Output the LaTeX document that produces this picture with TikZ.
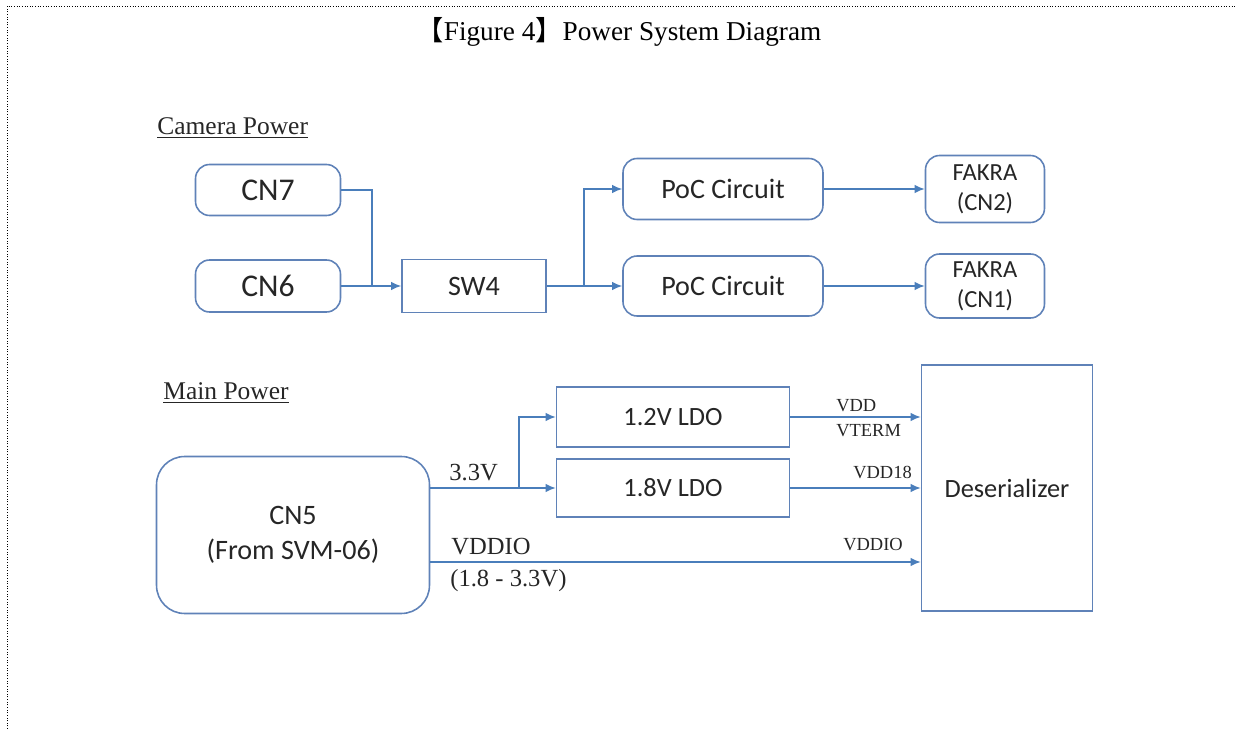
\documentclass[tikz,border=0pt]{standalone}
\usepackage{fontspec}
\setmainfont{Liberation Serif}
\newfontfamily\boxfont{Carlito}
\newfontfamily\cjk{Noto Sans CJK JP}
\usetikzlibrary{positioning, arrows.meta}
\definecolor{wireblue}{HTML}{4A7EBB}
\definecolor{boxedge}{HTML}{5F82B8}
\definecolor{boxtext}{HTML}{262626}

\begin{document}
\begin{tikzpicture}[
	% one unit is one pixel of the page
	x=0.02cm, y=-0.02cm,
	% Style for the rounded connector boxes
	conn/.style={
		rectangle,
		rounded corners=8pt,
		draw=boxedge,
		line width=0.9pt,
		fill=white,
		align=center,
		text=boxtext,
		font=\boxfont\fontsize{16}{18}\selectfont,
		inner sep=0pt
	},
	% Style for the square blocks
	block/.style={
		rectangle,
		draw=boxedge,
		line width=0.9pt,
		fill=white,
		align=center,
		text=boxtext,
		font=\boxfont\fontsize{15}{18}\selectfont,
		inner sep=0pt
	},
	% Style for the supply lines
	wire/.style={
		draw=wireblue,
		line width=0.9pt
	},
	feed/.style={
		wire,
		-{Latex[length=2mm, width=1.7mm]}
	},
	% Style for the texts on the lines
	rail/.style={
		font=\fontsize{14}{16}\selectfont,
		text=boxtext,
		inner sep=0pt
	},
	pin/.style={
		font=\fontsize{10.5}{11}\selectfont,
		text=boxtext,
		inner sep=0pt
	},
	heading/.style={
		font=\fontsize{14.5}{16}\selectfont,
		text=boxtext,
		anchor=base west,
		inner sep=0pt
	}
	]
	\useasboundingbox (0,0) rectangle (1235,729);
	% page frame
	\draw[densely dotted, line width=0.5pt] (7,729) -- (7,6) -- (1235,6);
	
	\node[font=\fontsize{15.5}{17}\selectfont] (title) at (619,32) {{\cjk 【}Figure 4{\cjk 】}Power System Diagram};
	
	% Camera power
	\node[heading] (camhead) at (157,135) {\underline{Camera Power}};
	
	\node[conn, minimum width=2.9cm, minimum height=1.02cm, font=\boxfont\fontsize{18}{20}\selectfont] (CN7) at (268,190) {CN7};
	\node[conn, minimum width=2.9cm, minimum height=1.04cm, font=\boxfont\fontsize{18}{20}\selectfont] (CN6) at (268,286) {CN6};
	\node[block, minimum width=2.88cm, minimum height=1.06cm, font=\boxfont\fontsize{16}{18}\selectfont] (SW4) at (474,286) {SW4};
	\node[conn, minimum width=4cm, minimum height=1.22cm] (PoCa) at (723,189) {PoC Circuit};
	\node[conn, minimum width=4cm, minimum height=1.2cm] (PoCb) at (723,286) {PoC Circuit};
	\node[conn, minimum width=2.38cm, minimum height=1.34cm, font=\boxfont\fontsize{14}{17}\selectfont] (FKa) at (985,189) {FAKRA\\(CN2)};
	\node[conn, minimum width=2.38cm, minimum height=1.28cm, font=\boxfont\fontsize{14}{17}\selectfont] (FKb) at (985,286) {FAKRA\\(CN1)};
	
	\coordinate (jin) at (372,286);
	\coordinate (jout) at (584,286);
	\draw[wire] (CN7.east) -| (jin);
	\draw[feed] (CN6.east) -- (SW4.west);
	\draw[wire] (SW4.east) -- (jout);
	\draw[feed] (jout) |- (PoCa.west);
	\draw[feed] (jout) -- (PoCb.west);
	\draw[feed] (PoCa.east) -- (FKa.west);
	\draw[feed] (PoCb.east) -- (FKb.west);
	
	% Main power
	\node[heading] (mainhead) at (163,400) {\underline{Main Power}};
	
	\node[conn, rounded corners=16pt, minimum width=5.46cm, minimum height=3.14cm, font=\boxfont\fontsize{16}{20}\selectfont] (CN5) at (293,535) {CN5\\(From SVM-06)};
	\node[block, minimum width=4.66cm, minimum height=1.2cm] (LDOa) at (673,417) {1.2V LDO};
	\node[block, minimum width=4.66cm, minimum height=1.16cm] (LDOb) at (673,488) {1.8V LDO};
	\node[block, minimum width=3.42cm, minimum height=4.92cm] (DES) at (1007,488) {Deserializer};
	
	\coordinate (v33) at (CN5.east |- LDOb.west);
	\coordinate (jldo) at (519,488);
	\coordinate (vio) at (430,562);
	\draw[wire] (v33) -- (jldo);
	\draw[feed] (jldo) |- (LDOa.west);
	\draw[feed] (jldo) -- (LDOb.west);
	\draw[feed] (LDOa.east) -- (LDOa.east -| DES.west);
	\draw[feed] (LDOb.east) -- (LDOb.east -| DES.west);
	\draw[feed] (vio) -- (vio -| DES.west);
	
	\node[rail, anchor=base west] (l33) at (449,481) {3.3V};
	\node[rail, anchor=base west] (lvio) at (451,555) {VDDIO};
	\node[rail, anchor=base west] (lrange) at (450,587) {(1.8 - 3.3V)};
	\node[pin, anchor=base west] (lvdd) at (836,412) {VDD};
	\node[pin, anchor=base west] (lvterm) at (836,437) {VTERM};
	\node[pin, anchor=base west] (lvdd18) at (853,479) {VDD18};
	\node[pin, anchor=base west] (lvddio) at (843,551) {VDDIO};
	
\end{tikzpicture}
\end{document}
